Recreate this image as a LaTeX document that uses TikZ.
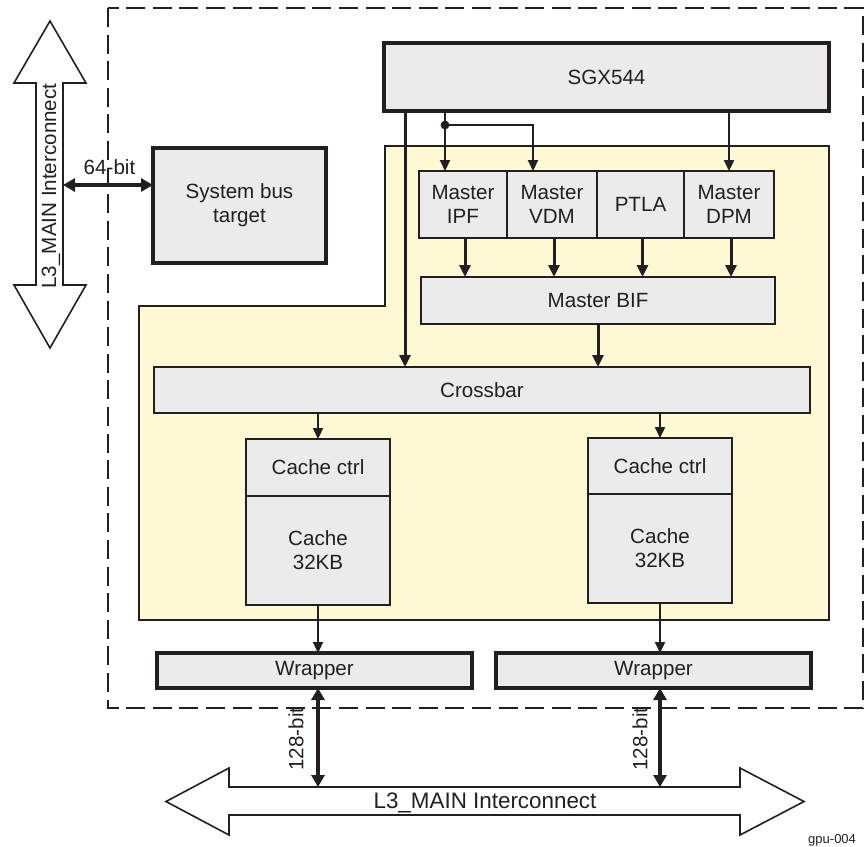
\documentclass[tikz,border=0pt]{standalone}
\usepackage{fontspec}
\setmainfont{Liberation Sans}
\usetikzlibrary{arrows.meta,calc}
\definecolor{boxgray}{HTML}{EBEBEB}
\definecolor{gpuyellow}{HTML}{FFF9D6}
\definecolor{ink}{HTML}{231F20}

\begin{document}
\begin{tikzpicture}[x=0.5pt, y=-0.5pt,
    txt/.style={font=\fontsize{10.3}{12}\selectfont, text=ink},
    box/.style={rectangle, draw=ink, fill=boxgray, line width=1pt, inner sep=0pt,
                outer sep=0pt, align=center, txt},
    bigbox/.style={box, line width=1.6pt},
    master/.style={box, minimum height=33.5pt},
    arr/.style={-{Triangle[length=6pt,width=5.5pt]}, line width=1.5pt, draw=ink},
    thinarr/.style={-{Triangle[length=5.5pt,width=5pt]}, line width=1.1pt, draw=ink},
    busarr/.style={{Triangle[length=6pt,width=6.5pt]}-{Triangle[length=6pt,width=6.5pt]},
                   line width=1.6pt, draw=ink},
    bus/.style={draw=ink, line width=0.8pt, fill=white},
]
\useasboundingbox (0,0) rectangle (865,846);

% GPU subsystem boundary
\draw[ink, line width=1.1pt, dash pattern=on 9.5pt off 3.8pt] (108,8) rectangle (863,708);

% SGX core area
\draw[fill=gpuyellow, draw=ink, line width=1pt]
    (139,306) -- (385,306) -- (385,146) -- (829,146) -- (829,620) -- (139,620) -- cycle;

% Interconnect buses
\draw[bus] (36,83) -- (14,83) -- (50,21) -- (86,83) -- (63,83) -- (63,285)
    -- (86,285) -- (50,348) -- (14,285) -- (36,285) -- cycle;
\node[txt, rotate=90] (l3v) at (51,186) {L3\_MAIN Interconnect};
\draw[bus] (229,787) -- (229,768) -- (166,801.5) -- (229,835) -- (229,815) -- (740,815)
    -- (740,835) -- (804,801.5) -- (740,768) -- (740,787) -- cycle;
\node[txt, font=\fontsize{11.2}{13}\selectfont] (l3h) at (485,803) {L3\_MAIN Interconnect};

% Blocks
\node[bigbox, minimum width=222.5pt, minimum height=34pt] (sgx) at (606.5,77) {SGX544};
\node[bigbox, minimum width=86.5pt, minimum height=57.5pt] (sysbus) at (239.5,205.5)
    {System bus\\target};

\node[master, minimum width=44pt] (ipf) at (463,204.5) {Master\\IPF};
\node[master, minimum width=45pt] (vdm) at (552,204.5) {Master\\VDM};
\node[master, minimum width=43.5pt] (ptla) at (640.5,204.5) {PTLA};
\node[master, minimum width=45pt] (dpm) at (729,204.5) {Master\\DPM};
\node[box, minimum width=177pt, minimum height=23.5pt] (bif) at (598,300.5) {Master BIF};

\node[box, minimum width=328pt, minimum height=23pt] (xbar) at (482,390) {Crossbar};

\node[box, minimum width=72pt, minimum height=28.5pt] (ctrlL) at (318,467.5) {Cache ctrl};
\node[box, minimum width=72pt, minimum height=54.5pt, anchor=north] (cacheL) at (ctrlL.south)
    {Cache\\32KB};
\node[box, minimum width=72pt, minimum height=28pt] (ctrlR) at (660,466) {Cache ctrl};
\node[box, minimum width=72pt, minimum height=54.5pt, anchor=north] (cacheR) at (ctrlR.south)
    {Cache\\32KB};

\node[bigbox, minimum width=157.5pt, minimum height=17.5pt] (wrapL) at (314.5,670.5) {Wrapper};
\node[bigbox, minimum width=157.5pt, minimum height=17.5pt] (wrapR) at (653.5,670.5) {Wrapper};

% SGX outputs
\coordinate (jn) at (445,125);
\coordinate (sgxL) at ([xshift=10.5pt]sgx.south west);
\draw[arr] (sgxL) -- (sgxL |- xbar.north);
\draw[thinarr] (sgx.south -| jn) -- (jn |- ipf.north);
\draw[thinarr] (jn) -| ([xshift=-9.5pt]vdm.north);
\fill[ink] (jn) circle (2.2pt);
\draw[thinarr] (sgx.south -| dpm) -- (dpm.north);

% Masters to BIF to crossbar
\foreach \m in {ipf,vdm,ptla,dpm}
    \draw[arr] ([xshift=1pt]\m.south) -- ([xshift=1pt]\m.south |- bif.north);
\draw[arr] (bif.south) -- (bif.south |- xbar.north);

% Crossbar to caches to wrappers
\draw[thinarr] (ctrlL.north |- xbar.south) -- (ctrlL.north);
\draw[thinarr] (ctrlR.north |- xbar.south) -- (ctrlR.north);
\draw[thinarr] (cacheL.south) -- (cacheL.south |- wrapL.north);
\draw[thinarr] (cacheR.south) -- (cacheR.south |- wrapR.north);

% External links
\coordinate (l3side) at (63,185);
\coordinate (l3top) at (485,787);
\draw[busarr] (l3side) -- (l3side -| sysbus.west);
\node[txt] (bit64) at (109.5,167) {64-bit};
\draw[busarr] (cacheL.south |- wrapL.south) -- (cacheL.south |- l3top);
\node[txt, rotate=90] (bitL) at (296,739) {128-bit};
\draw[busarr] (cacheR.south |- wrapR.south) -- (cacheR.south |- l3top);
\node[txt, rotate=90] (bitR) at (640,739) {128-bit};

\node[font=\fontsize{6.5}{7}\selectfont, text=ink, anchor=east] (figid) at (863,840) {gpu-004};

\end{tikzpicture}
\end{document}
